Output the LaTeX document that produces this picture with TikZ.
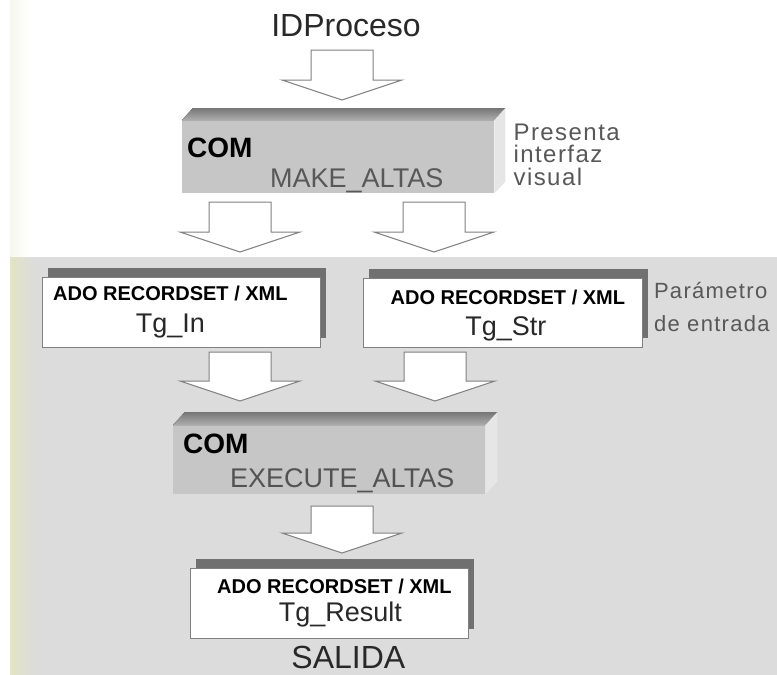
\documentclass[tikz,border=0pt]{standalone}
\usepackage{fontspec}
\setmainfont{Liberation Sans}
\newfontfamily\wideside[LetterSpace=6]{Liberation Sans}
\newfontfamily\paramside[LetterSpace=6]{Liberation Sans}
\usetikzlibrary{calc,positioning,shadows}
\definecolor{bggray}{RGB}{220,220,220}
\definecolor{edgegray}{RGB}{128,128,128}
\definecolor{comfront}{RGB}{198,198,198}
\definecolor{comtop}{RGB}{118,118,118}
\definecolor{comside}{RGB}{230,230,230}
\definecolor{shade}{RGB}{112,112,112}
\definecolor{strip}{RGB}{226,228,196}
\definecolor{inktxt}{RGB}{40,40,40}
\definecolor{softtxt}{RGB}{88,88,88}

\tikzset{
	hollow/.style={draw=edgegray, fill=white, line width=1pt, line join=miter},
	combox/.style={fill=comfront, inner sep=0pt, anchor=north west},
	recbox/.style={draw=edgegray, fill=white, line width=0.8pt, inner sep=0pt, anchor=north west,
		drop shadow={opacity=1, fill=shade, shadow xshift=6pt, shadow yshift=9pt}},
	comtxt/.style={inner sep=0pt, anchor=base west, font=\fontsize{28}{30}\bfseries\selectfont},
	nametxt/.style={inner sep=0pt, anchor=base west, text=softtxt, font=\fontsize{27}{30}\selectfont},
	adotxt/.style={inner sep=0pt, anchor=base, font=\fontsize{20}{22}\bfseries\selectfont},
	tgtxt/.style={inner sep=0pt, anchor=base, text=inktxt, font=\fontsize{27}{30}\selectfont},
	sidetxt/.style={inner sep=0pt, anchor=base west, align=left, text=softtxt},
}

% hollow block arrow: #1 top of shaft, #2 tip
\newcommand{\bigarrow}[2]{%
	\draw[hollow] ($(#1)+(-31,0)$) -- ($(#1)+(31,0)$) -- ($(#2)+(31,-20)$) -- ($(#2)+(60,-20)$)
		-- (#2) -- ($(#2)+(-60,-20)$) -- ($(#2)+(-31,-20)$) -- cycle;}

\begin{document}
\begin{tikzpicture}[x=1pt, y=-1pt]
	\useasboundingbox (0,0) rectangle (777,675);
	
	% background
	\fill[white] (0,0) rectangle (777,675);
	\fill[left color=strip!30, right color=white] (10,0) rectangle (30,257);
	\fill[bggray] (10,257) rectangle (777,675);
	\fill[left color=strip, right color=bggray] (10,257) rectangle (34,675);
	
	\node[inner sep=0pt, anchor=base, text=inktxt, font=\fontsize{32}{34}\selectfont] (idp) at (346,36) {IDProceso};
	
	% COM MAKE_ALTAS
	\node[combox, minimum width=312pt, minimum height=73pt] (make) at (182,120) {};
	\fill[top color=comtop, bottom color=comtop!60!white] (make.north west) -- (make.north east) -- ++(11,-12) -- ($(make.north west)+(11,-12)$) -- cycle;
	\fill[comside] (make.north east) -- ++(11,-12) -- ($(make.south east)+(11,-12)$) -- (make.south east) -- cycle;
	\node[comtxt] (com1) at ($(make.north west)+(5,37)$) {COM};
	\node[nametxt] (mk) at ($(make.north west)+(88,67)$) {MAKE\_ALTAS};
	\node[sidetxt, font=\wideside\fontsize{24}{22.5}\selectfont] (pres) at ($(make.north east)+(19,65)$) {Presenta\\interfaz\\visual};
	
	% recordsets in
	\node[recbox, minimum width=278pt, minimum height=70pt] (tgin) at (42,277) {};
	\node[adotxt] (ado1) at ($(tgin.north)+(-11,23)$) {ADO RECORDSET / XML};
	\node[tgtxt] (in) at ($(tgin.north)+(-11,55)$) {Tg\_In};
	\node[recbox, minimum width=279pt, minimum height=69pt] (tgstr) at (363,278) {};
	\node[adotxt] (ado2) at ($(tgstr.north)+(5,26)$) {ADO RECORDSET / XML};
	\node[tgtxt] (str) at ($(tgstr.north)+(3,57)$) {Tg\_Str};
	\node[sidetxt, font=\paramside\fontsize{22}{33}\selectfont] (param) at ($(tgstr.north east)+(11,53)$) {Parámetro\\de entrada};
	
	% COM EXECUTE_ALTAS
	\node[combox, minimum width=312pt, minimum height=69pt] (exec) at (173,425) {};
	\fill[top color=comtop, bottom color=comtop!60!white] (exec.north west) -- (exec.north east) -- ++(12,-13) -- ($(exec.north west)+(12,-13)$) -- cycle;
	\fill[comside] (exec.north east) -- ++(12,-13) -- ($(exec.south east)+(12,-13)$) -- (exec.south east) -- cycle;
	\node[comtxt] (com2) at ($(exec.north west)+(10,28)$) {COM};
	\node[nametxt, text=inktxt!80] (ex) at ($(exec.north west)+(57,62)$) {EXECUTE\_ALTAS};
	
	% recordset out
	\node[recbox, minimum width=278pt, minimum height=70pt] (tgres) at (190,568) {};
	\node[adotxt] (ado3) at ($(tgres.north)+(5,25)$) {ADO RECORDSET / XML};
	\node[tgtxt] (res) at ($(tgres.north)+(11,53)$) {Tg\_Result};
	\node[inner sep=0pt, anchor=base, text=inktxt, font=\fontsize{32}{34}\selectfont] (salida) at ($(tgres.south)+(19,30)$) {SALIDA};
	
	% block arrows
	\coordinate (a1) at (342,50);  \coordinate (t1) at (342,100);
	\coordinate (a2) at (240,202); \coordinate (t2) at (240,252);
	\coordinate (a3) at (434,202); \coordinate (t3) at (434,252);
	\coordinate (a4) at (240,352); \coordinate (t4) at (240,401);
	\coordinate (a5) at (435,352); \coordinate (t5) at (435,401);
	\coordinate (a6) at (342,506); \coordinate (t6) at (342,553);
	\foreach \i in {1,...,6} {\bigarrow{a\i}{t\i}}
\end{tikzpicture}
\end{document}
